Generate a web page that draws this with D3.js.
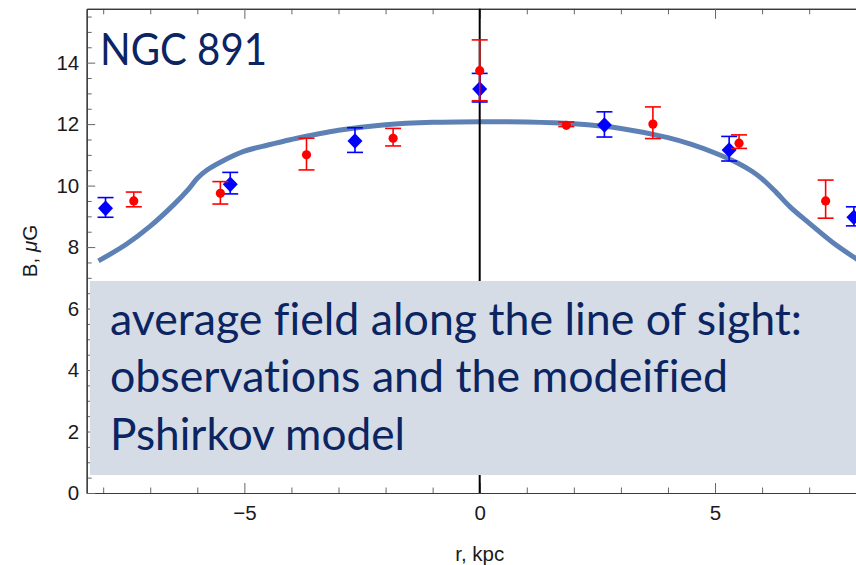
<!DOCTYPE html>
<html>
<head>
<meta charset="utf-8">
<script src="https://cdn.jsdelivr.net/npm/d3@7"></script>
<style>
  html, body { margin: 0; padding: 0; background: #fff; }
  svg { display: block; }
  text { font-variant-ligatures: none; }
</style>
</head>
<body>
<svg id="chart" width="856" height="565"></svg>
<script>
// Model curve: average field along the line of sight (modified Pshirkov model)
const modelR = [-8.1, -7.5, -7.0, -6.5, -6.2, -6.0, -5.8, -5.5, -5.0, -4.5, -4.0, -3.0, -2.0, -1.0, 0.0,
                1.0, 2.0, 3.0, 4.0, 4.5, 5.0, 5.5, 5.8, 6.0, 6.3, 6.6, 7.0, 7.5, 8.0, 8.1];
const modelB = [7.55, 8.1, 8.68, 9.38, 9.86, 10.24, 10.5, 10.77, 11.12, 11.32, 11.5, 11.8, 11.98, 12.06, 12.08,
                12.07, 12.01, 11.86, 11.56, 11.34, 11.06, 10.72, 10.45, 10.22, 9.78, 9.3, 8.78, 8.15, 7.62, 7.52];

// Observations, set 1 (blue diamonds)
const blueR  = [-7.95, -5.3, -2.65, 0, 2.65, 5.3, 7.95];
const blueB  = [9.26, 10.04, 11.45, 13.14, 11.97, 11.16, 8.97];
const blueLo = [8.97, 9.73, 11.08, 12.72, 11.58, 10.8, 8.69];
const blueHi = [9.61, 10.43, 11.88, 13.65, 12.40, 11.6, 9.31];

// Observations, set 2 (red circles)
const redR  = [-7.35, -5.51, -3.68, -1.84, 0, 1.84, 3.68, 5.51, 7.35];
const redB  = [9.50, 9.75, 11.0, 11.54, 13.74, 11.96, 12.0, 11.38, 9.5];
const redLo = [9.31, 9.40, 10.51, 11.29, 12.76, 11.92, 11.53, 11.21, 8.94];
const redHi = [9.79, 10.13, 11.54, 11.86, 14.74, 12.07, 12.56, 11.65, 10.18];

// Axis ticks
const xMajor = [-5, 0, 5];
const xMinor = [-8, -7, -6, -4, -3, -2, -1, 1, 2, 3, 4, 6, 7, 8];
const yMajor = [0, 2, 4, 6, 8, 10, 12, 14];
const yMinor = [0.5, 1, 1.5, 2.5, 3, 3.5, 4.5, 5, 5.5, 6.5, 7, 7.5, 8.5, 9, 9.5, 10.5, 11, 11.5, 12.5, 13, 13.5, 14.5, 15, 15.5];

const titleText = "NGC 891";
const noteLines = ["average field along the line of sight:", "observations and the modeified", "Pshirkov model"];

const svg = d3.select("#chart");
const plotLeft = 86.7, plotBottom = 493, plotTop = 8.85;

const x = d3.scaleLinear().domain([-8.35, 8.35]).range([plotLeft, 872.7]);
const y = d3.scaleLinear().domain([0, 15.75]).range([plotBottom, plotTop]);

const tickFont = "'Liberation Sans', Arial, sans-serif";
const tickSize = 20.5;
const frameColor = "#3a3a3a";
const tickColor = "#666";

function styleAxis(g, showLabels) {
  g.select(".domain").attr("stroke", frameColor).attr("stroke-width", 1.2);
  g.selectAll(".tick line").attr("stroke", tickColor).attr("stroke-width", 1);
  g.selectAll(".tick text")
    .attr("font-family", tickFont).attr("font-size", tickSize).attr("fill", "#1a1a1a");
  if (!showLabels) g.selectAll(".tick text").remove();
}

// bottom frame
svg.append("g").attr("transform", `translate(0,${plotBottom})`)
  .call(d3.axisBottom(x).tickValues(xMinor).tickSizeInner(-5.5).tickSizeOuter(0).tickFormat(""))
  .call(g => styleAxis(g, false));
svg.append("g").attr("transform", `translate(0,${plotBottom})`)
  .call(d3.axisBottom(x).tickValues(xMajor).tickSizeInner(-10).tickSizeOuter(0).tickPadding(12)
    .tickFormat(d => d < 0 ? "\u2212" + Math.abs(d) : d))
  .call(g => styleAxis(g, true));

// top frame
svg.append("g").attr("transform", `translate(0,${plotTop})`)
  .call(d3.axisTop(x).tickValues(xMinor).tickSizeInner(-5.5).tickSizeOuter(0).tickFormat(""))
  .call(g => styleAxis(g, false));
svg.append("g").attr("transform", `translate(0,${plotTop})`)
  .call(d3.axisTop(x).tickValues(xMajor).tickSizeInner(-10).tickSizeOuter(0).tickFormat(""))
  .call(g => styleAxis(g, false));

// left frame
svg.append("g").attr("transform", `translate(${plotLeft},0)`)
  .call(d3.axisLeft(y).tickValues(yMinor).tickSizeInner(-5).tickSizeOuter(0).tickFormat(""))
  .call(g => styleAxis(g, false));
svg.append("g").attr("transform", `translate(${plotLeft},0)`)
  .call(d3.axisLeft(y).tickValues(yMajor).tickSizeInner(-8.5).tickSizeOuter(0).tickPadding(7.5))
  .call(g => styleAxis(g, true));

// axis titles
svg.append("text")
  .attr("transform", `translate(36.5,251) rotate(-90)`)
  .attr("text-anchor", "middle")
  .attr("font-family", tickFont).attr("font-size", tickSize).attr("fill", "#1a1a1a")
  .call(t => {
    t.append("tspan").text("B, ");
    t.append("tspan").attr("font-style", "italic").text("\u03bc");
    t.append("tspan").text("G");
  });
svg.append("text")
  .attr("x", x(0)).attr("y", 561)
  .attr("text-anchor", "middle")
  .attr("font-family", tickFont).attr("font-size", tickSize).attr("fill", "#1a1a1a")
  .text("r, kpc");

// model curve
const model = modelR.map((r, i) => [r, modelB[i]]);
svg.append("path")
  .datum(model)
  .attr("fill", "none")
  .attr("stroke", "#5E81B5")
  .attr("stroke-width", 5)
  .attr("stroke-linecap", "butt")
  .attr("d", d3.line().x(d => x(d[0])).y(d => y(d[1])).curve(d3.curveCatmullRom.alpha(0.5)));

// vertical axis line at r = 0
svg.append("line")
  .attr("x1", x(0)).attr("x2", x(0))
  .attr("y1", y(15.75)).attr("y2", y(0))
  .attr("stroke", "#000").attr("stroke-width", 2);

// error bars
function errorBars(rs, lo, hi, color) {
  const g = svg.append("g").attr("stroke", color).attr("stroke-width", 1.6);
  const capW = 8;
  rs.forEach((r, i) => {
    const cx = x(r);
    g.append("line").attr("x1", cx).attr("x2", cx).attr("y1", y(lo[i])).attr("y2", y(hi[i]));
    g.append("line").attr("x1", cx - capW).attr("x2", cx + capW).attr("y1", y(lo[i])).attr("y2", y(lo[i]));
    g.append("line").attr("x1", cx - capW).attr("x2", cx + capW).attr("y1", y(hi[i])).attr("y2", y(hi[i]));
  });
}

errorBars(blueR, blueLo, blueHi, "#0000FF");
svg.append("g").selectAll("path")
  .data(blueR.map((r, i) => [r, blueB[i]]))
  .join("path")
  .attr("transform", d => `translate(${x(d[0])},${y(d[1])})`)
  .attr("d", "M0,-7.8L7.5,0L0,7.8L-7.5,0Z")
  .attr("fill", "#0000FF");

errorBars(redR, redLo, redHi, "#FF0000");
svg.append("g").selectAll("circle")
  .data(redR.map((r, i) => [r, redB[i]]))
  .join("circle")
  .attr("cx", d => x(d[0])).attr("cy", d => y(d[1]))
  .attr("r", 4.6)
  .attr("fill", "#FF0000");

// title
const navy = "#0B2462";
svg.append("text")
  .attr("x", 100).attr("y", 65)
  .attr("font-family", "Lato, 'Open Sans', sans-serif")
  .attr("font-size", 45)
  .attr("fill", navy)
  .attr("textLength", 167).attr("lengthAdjust", "spacingAndGlyphs")
  .text(titleText);

// annotation box
svg.append("rect")
  .attr("x", 90).attr("y", 281)
  .attr("width", 770).attr("height", 194)
  .attr("fill", "#D6DCE5");

const noteBase = [335, 392, 450];
const noteLen = [692, 618, 295];
noteLines.forEach((s, i) => {
  svg.append("text")
    .attr("x", 110).attr("y", noteBase[i])
    .attr("font-family", "Lato, 'Open Sans', sans-serif")
    .attr("font-size", 44)
    .attr("fill", navy)
    .attr("textLength", noteLen[i]).attr("lengthAdjust", "spacingAndGlyphs")
    .text(s);
});
</script>
</body>
</html>
